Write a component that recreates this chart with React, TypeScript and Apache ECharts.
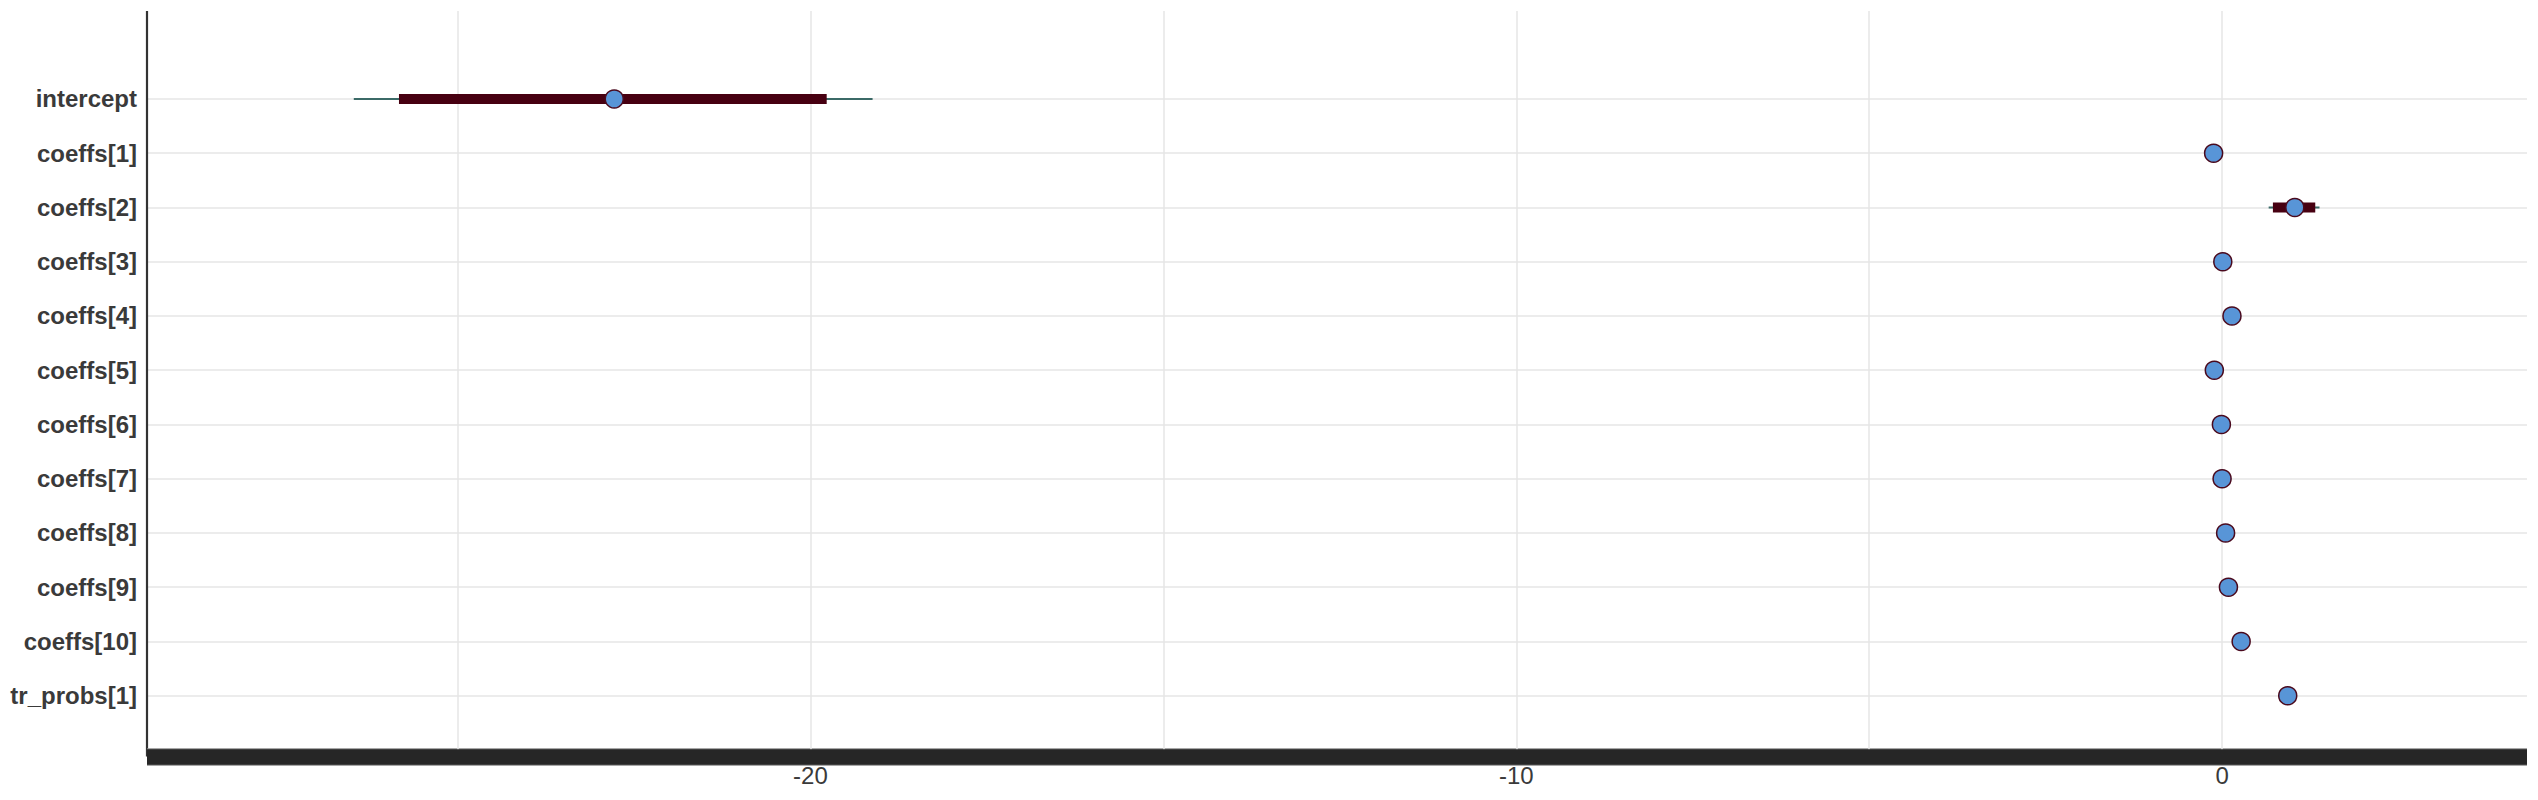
import React, { useEffect, useRef } from 'react';
import * as echarts from 'echarts';

// Parameter names (top to bottom)
const names = [
  'intercept',
  'coeffs[1]',
  'coeffs[2]',
  'coeffs[3]',
  'coeffs[4]',
  'coeffs[5]',
  'coeffs[6]',
  'coeffs[7]',
  'coeffs[8]',
  'coeffs[9]',
  'coeffs[10]',
  'tr_probs[1]',
];

// Point estimates
const medians = [-22.78, -0.12, 1.03, 0.01, 0.14, -0.11, -0.01, 0.0, 0.05, 0.09, 0.27, 0.93];
// Inner (thick) interval
const innerLo = [-25.83, -0.16, 0.72, -0.03, 0.1, -0.15, -0.05, -0.04, 0.01, 0.05, 0.23, 0.91];
const innerHi = [-19.77, -0.08, 1.32, 0.05, 0.18, -0.07, 0.03, 0.04, 0.09, 0.13, 0.31, 0.95];
// Outer (thin) interval
const outerLo = [-26.47, -0.19, 0.66, -0.06, 0.07, -0.18, -0.08, -0.07, -0.02, 0.02, 0.2, 0.9];
const outerHi = [-19.12, -0.05, 1.38, 0.08, 0.21, -0.04, 0.06, 0.07, 0.12, 0.16, 0.34, 0.96];

// Axis ticks
const xGridValues = [-25, -20, -15, -10, -5, 0];
const xLabelValues = [-20, -10, 0];
const X_MIN = -29.4;
const X_MAX = 4.32;
const Y_MIN = -1.622;
const Y_MAX = 12.12;

export default function App() {
  const ref = useRef<HTMLDivElement>(null);

  useEffect(() => {
    const chart = echarts.init(ref.current as HTMLDivElement, null, { renderer: 'svg' });
    const rows = names.map((_, i) => i);

    chart.setOption({
      animation: false,
      backgroundColor: '#ffffff',
      grid: { left: 147, right: 11, top: 11, bottom: 43.5, containLabel: false },
      xAxis: [
        {
          type: 'value',
          position: 'bottom',
          min: X_MIN,
          max: X_MAX,
          z: 3,
          axisLine: {
            show: true,
            onZero: false,
            lineStyle: { color: '#262626', width: 15.5, cap: 'butt' },
          },
          axisTick: { show: false, customValues: xGridValues },
          axisLabel: {
            customValues: xLabelValues,
            fontSize: 24,
            color: '#3a3a3a',
            margin: 7,
            fontFamily: 'Liberation Sans',
            formatter: (v: number) => String(v),
          },
          splitLine: { show: true, lineStyle: { color: '#e6e6e6', width: 1.5 } },
        },
        {
          type: 'value',
          position: 'bottom',
          offset: 0,
          min: X_MIN,
          max: X_MAX,
          z: 2,
          axisLine: {
            show: true,
            onZero: false,
            lineStyle: { color: '#8a8a8a', width: 17.5, cap: 'butt' },
          },
          axisTick: { show: false },
          axisLabel: { show: false },
          splitLine: { show: false },
        },
      ],
      yAxis: {
        type: 'value',
        inverse: true,
        min: Y_MIN,
        max: Y_MAX,
        axisLine: {
          show: true,
          onZero: false,
          lineStyle: { color: '#333333', width: 2.2, cap: 'butt' },
        },
        axisTick: { show: false, customValues: rows },
        axisLabel: {
          customValues: rows,
          fontSize: 24,
          fontWeight: 'bold',
          color: '#3a3a3a',
          margin: 10,
          fontFamily: 'Liberation Sans',
          formatter: (v: number) => names[Math.round(v)] ?? '',
        },
        splitLine: { show: true, lineStyle: { color: '#e6e6e6', width: 1.5 } },
      },
      series: [
        {
          type: 'custom',
          name: 'outer',
          z: 2,
          renderItem: (params: any, api: any) => {
            const i = api.value(0);
            const a = api.coord([api.value(1), i]);
            const b = api.coord([api.value(2), i]);
            return {
              type: 'line',
              shape: { x1: a[0], y1: a[1], x2: b[0], y2: b[1] },
              style: { stroke: '#3b6a67', lineWidth: 2 },
            };
          },
          data: rows.map((i) => [i, outerLo[i], outerHi[i]]),
          encode: { x: [1, 2], y: 0 },
        },
        {
          type: 'custom',
          name: 'inner',
          z: 3,
          renderItem: (params: any, api: any) => {
            const i = api.value(0);
            const a = api.coord([api.value(1), i]);
            const b = api.coord([api.value(2), i]);
            return {
              type: 'rect',
              shape: { x: a[0], y: a[1] - 5, width: b[0] - a[0], height: 10 },
              style: { fill: '#470011' },
            };
          },
          data: rows.map((i) => [i, innerLo[i], innerHi[i]]),
          encode: { x: [1, 2], y: 0 },
        },
        {
          type: 'scatter',
          name: 'median',
          z: 4,
          symbol: 'circle',
          symbolSize: 18,
          itemStyle: { color: '#5895d7', borderColor: '#4a0a1e', borderWidth: 1.5, opacity: 1 },
          data: rows.map((i) => [medians[i], i]),
        },
      ],
    });

    return () => chart.dispose();
  }, []);

  return (
    <div
      ref={ref}
      style={{ position: 'absolute', left: 0, top: 0, width: 2538, height: 800 }}
    />
  );
}
